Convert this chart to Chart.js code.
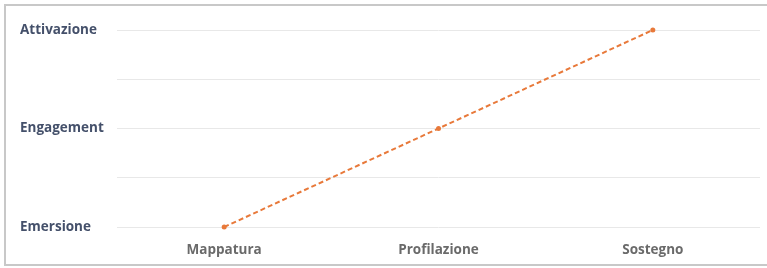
<!DOCTYPE html>
<html><head><meta charset="utf-8">
<script src="https://cdn.jsdelivr.net/npm/chart.js@4"></script>
<style>
html,body{margin:0;padding:0;background:#fff;}
#wrap{position:absolute;left:0;top:0;width:767px;height:268px;}
#frame{position:absolute;left:4px;top:4px;width:770px;height:262px;border:2px solid #c8c8c8;pointer-events:none;box-sizing:border-box;}
</style></head>
<body>
<div id="wrap"><canvas id="c" width="767" height="268"></canvas><div id="frame"></div></div>
<script>
const categories = ["Mappatura", "Profilazione", "Sostegno"];
const values = [0, 2, 4];
const levelLabels = {0: "Emersione", 2: "Engagement", 4: "Attivazione"};

new Chart(document.getElementById('c'), {
  type: 'line',
  data: {
    labels: categories,
    datasets: [{
      data: values,
      borderColor: '#E8793A',
      backgroundColor: '#E8793A',
      borderWidth: 2,
      borderDash: [5, 3],
      pointRadius: 2.5,
      pointBorderWidth: 0,
      tension: 0,
      clip: false
    }]
  },
  options: {
    responsive: false,
    animation: false,
    events: [],
    layout: {padding: {left: 20, top: 30, right: 7, bottom: 0}},
    plugins: {legend: {display: false}, tooltip: {enabled: false}},
    scales: {
      x: {
        offset: true,
        grid: {display: false},
        border: {display: false},
        ticks: {color: '#6a6a6a', font: {family: 'Open Sans', size: 13.5, weight: 'bold'}, padding: 7, maxRotation: 0},
        afterFit: s => { s.height = 41; }
      },
      y: {
        min: 0, max: 4,
        grid: {color: '#e8e8e8', drawTicks: false, lineWidth: 1},
        border: {display: false},
        ticks: {
          stepSize: 1, autoSkip: false, crossAlign: 'far', padding: 0,
          color: '#44506a', font: {family: 'Open Sans', size: 13.5, weight: 'bold'},
          callback: v => levelLabels[v] || ''
        },
        afterFit: s => { s.width = 97; }
      }
    }
  }
});
</script>
</body></html>
